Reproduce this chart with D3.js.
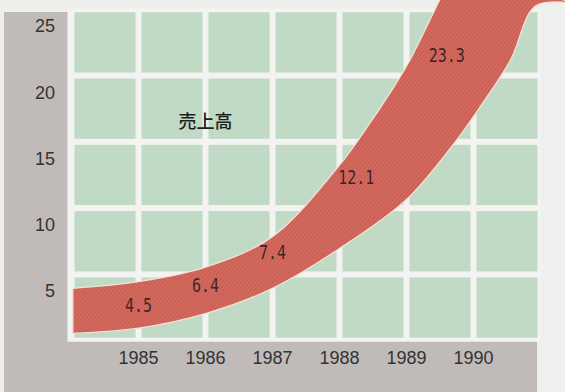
<!DOCTYPE html>
<html>
<head>
<meta charset="utf-8">
<script src="https://cdn.jsdelivr.net/npm/d3@7"></script>
<style>
  html, body { margin: 0; padding: 0; background: #eeeeec; }
  svg { display: block; }
</style>
</head>
<body>
<svg id="chart" width="565" height="392"></svg>
<script>
// ---- data ----
const years = [1985, 1986, 1987, 1988, 1989, 1990];
const yTicks = [5, 10, 15, 20, 25];
const seriesName = "売上高";
const salesYears = [1985, 1986, 1987, 1988, 1989];
const sales = [4.5, 6.4, 7.4, 12.1, 23.3];
// where each value label sits on the band [year, level]
const labelAt = [[1985, 4.0], [1986, 5.5], [1987, 8.0], [1988.25, 13.6], [1989.6, 22.8]];
// upper and lower edges of the drawn growth band [year, level]
const bandTop = [[1984.02, 5.2], [1985, 5.7], [1986, 6.8], [1987, 9.1], [1988, 14.5],
                 [1988.35, 16.9], [1988.75, 19.9], [1989.05, 22.4], [1989.5, 27.0], [1989.75, 29.5]];
const bandBottom = [[1984.02, 1.8], [1985, 2.2], [1986, 3.3], [1987, 5.2], [1988, 8.2],
                    [1989, 11.9], [1989.75, 16.4], [1990.1, 18.9], [1990.55, 22.4],
                    [1990.93, 26.5], [1991.5, 26.7]];
const gridYears = [1984, 1985, 1986, 1987, 1988, 1989, 1990, 1991];
const gridLevels = [1.25, 6.25, 11.25, 16.25, 21.25, 26.25];

// ---- scales ----
const x = d3.scaleLinear().domain([1984, 1991]).range([71.5, 540.5]);
const y = d3.scaleLinear().domain([0, 25]).range([357.3, 25.8]);

const svg = d3.select("#chart");
const defs = svg.append("defs");
const pat = defs.append("pattern").attr("id", "hatch")
  .attr("patternUnits", "userSpaceOnUse").attr("width", 3).attr("height", 3)
  .attr("patternTransform", "rotate(40)");
pat.append("rect").attr("width", 3).attr("height", 3).attr("fill", "#d4695e");
pat.append("rect").attr("width", 1).attr("height", 3).attr("fill", "#c65d53");

// background
svg.append("rect").attr("width", 565).attr("height", 392).attr("fill", "#eeeeec");
svg.append("rect").attr("x", 540).attr("y", 0).attr("width", 25).attr("height", 392).attr("fill", "#edf0ee");

// gray frame (left and bottom)
svg.append("rect").attr("x", 4).attr("y", 12).attr("width", 533).attr("height", 380).attr("fill", "#c0bab9");

// plot area (white grid lines + green cells)
const plotTop = y(d3.max(gridLevels)), plotBottom = y(d3.min(gridLevels));
svg.append("rect")
  .attr("x", x(1984) - 4).attr("y", plotTop - 1)
  .attr("width", x(1991) - x(1984) + 4).attr("height", plotBottom - plotTop + 2)
  .attr("fill", "#f3f4f1");

const cells = [];
for (let i = 0; i < gridYears.length - 1; i++) {
  for (let j = 0; j < gridLevels.length - 1; j++) {
    cells.push({ x0: gridYears[i], x1: gridYears[i + 1], v0: gridLevels[j], v1: gridLevels[j + 1] });
  }
}
const gap = 3;
svg.append("g").selectAll("rect").data(cells).join("rect")
  .attr("x", d => x(d.x0) + gap)
  .attr("y", d => y(d.v1) + gap)
  .attr("width", d => x(d.x1) - x(d.x0) - 2 * gap)
  .attr("height", d => y(d.v0) - y(d.v1) - 2 * gap)
  .attr("fill", "#c0dac6");

// growth band
const edge = d3.line().x(d => x(d[0])).y(d => y(d[1])).curve(d3.curveCatmullRom);
const topStr = edge(bandTop);
const botStr = edge(bandBottom.slice().reverse());
const bandPath = topStr + "L" + botStr.slice(1) + "Z";
svg.append("path").attr("d", bandPath)
  .attr("fill", "url(#hatch)")
  .attr("stroke", "#f1e2d6").attr("stroke-width", 1.3);

// value labels
svg.append("g").selectAll("text").data(sales).join("text")
  .attr("transform", (d, i) => `translate(${x(labelAt[i][0])},${y(labelAt[i][1])}) scale(1,1.35)`)
  .attr("text-anchor", "middle").attr("dy", "0.36em")
  .attr("font-family", "'DejaVu Sans Mono', 'Liberation Mono', monospace")
  .attr("font-size", 15).attr("fill", "#3a2828")
  .text(d => d.toFixed(1));

// series name
svg.append("text")
  .attr("x", x(1986)).attr("y", y(17.8)).attr("dy", "0.36em")
  .attr("text-anchor", "middle")
  .attr("font-family", "'Noto Sans CJK JP', 'Noto Sans CJK SC', sans-serif")
  .attr("font-size", 18).attr("font-weight", 500).attr("fill", "#1e1e1e")
  .text(seriesName);

// y axis labels
svg.append("g").selectAll("text").data(yTicks).join("text")
  .attr("x", 55).attr("y", d => y(d)).attr("dy", "0.36em")
  .attr("text-anchor", "end")
  .attr("font-family", "'Liberation Sans', Arial, sans-serif")
  .attr("font-size", 18).attr("fill", "#333")
  .text(d => d);

// x axis labels
svg.append("g").selectAll("text").data(years).join("text")
  .attr("x", d => x(d)).attr("y", y(0)).attr("dy", "0.36em")
  .attr("text-anchor", "middle")
  .attr("font-family", "'Liberation Sans', Arial, sans-serif")
  .attr("font-size", 18).attr("fill", "#333")
  .text(d => d);
</script>
</body>
</html>
